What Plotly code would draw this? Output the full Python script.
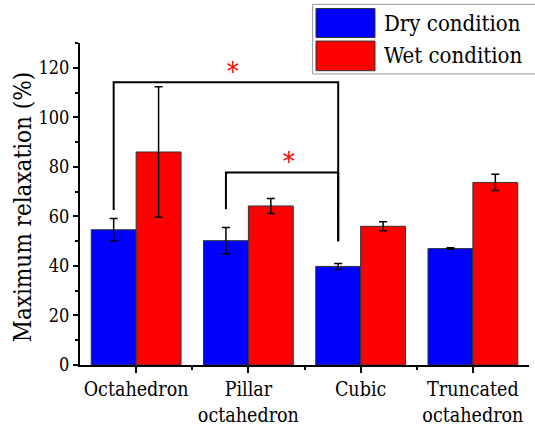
import plotly.graph_objects as go

# Particle shapes and measured maximum relaxation (%)
categories = ["Octahedron", "Pillar<br>octahedron", "Cubic", "Truncated<br>octahedron"]
series_names = ["Dry condition", "Wet condition"]
dry_values = [54.6, 50.2, 39.8, 47.0]
dry_errors = [4.5, 5.3, 1.2, 0.3]
wet_values = [86.0, 64.2, 56.0, 73.7]
wet_errors = [26.3, 3.0, 1.8, 3.3]
colors = ["#0000FF", "#FF0000"]

# Significance brackets: (x_left, x_right, y_top, y_left_end, y_right_end)
brackets = [(-0.2, 1.8, 114.2, 62.6, 50.0), (0.8, 1.8, 77.7, 62.9, 50.0)]
stars = [(0.86, 118.4), (1.36, 82.0)]

FONT = "DejaVu Serif Condensed, DejaVu Serif, serif"
positions = list(range(len(categories)))

fig = go.Figure()
for name, vals, errs, col in zip(series_names, [dry_values, wet_values],
                                  [dry_errors, wet_errors], colors):
    fig.add_trace(go.Bar(
        x=positions, y=vals, name=name,
        marker=dict(color=col, line=dict(color="#333333", width=1)),
        error_y=dict(type="data", array=errs, color="black", thickness=1.5, width=4),
        showlegend=False,
    ))

shapes = []
for x0, x1, ytop, yl, yr in brackets:
    shapes.append(dict(
        type="path", xref="x", yref="y",
        path=f"M {x0} {yl} L {x0} {ytop} L {x1} {ytop} L {x1} {yr}",
        line=dict(color="black", width=2),
    ))

annotations = []
for sx, sy in stars:
    annotations.append(dict(x=sx, y=sy, xref="x", yref="y", text="*", showarrow=False,
                            font=dict(family=FONT, size=26, color="#FF0000"),
                            xanchor="center", yanchor="middle"))

# Legend box with large colour swatches
shapes.append(dict(type="rect", xref="paper", yref="paper", x0=0.518, x1=1.03, y0=0.904, y1=1.120,
                   line=dict(color="#999999", width=1), fillcolor="white", layer="above"))
swatch_y = [(1.017, 1.107), (0.914, 1.006)]
text_y = [1.062, 0.960]
for (y0, y1), ty, name, col in zip(swatch_y, text_y, series_names, colors):
    shapes.append(dict(type="rect", xref="paper", yref="paper", x0=0.5256, x1=0.657, y0=y0, y1=y1,
                       line=dict(color="#333333", width=1), fillcolor=col, layer="above"))
    annotations.append(dict(x=0.672, y=ty, xref="paper", yref="paper", text=name, showarrow=False,
                            xanchor="left", yanchor="middle",
                            font=dict(family=FONT, size=22, color="black")))

# Y axis title
annotations.append(dict(x=-0.127, y=0.49, xref="paper", yref="paper", text="Maximum relaxation (%)",
                        textangle=-90, showarrow=False, xanchor="center", yanchor="middle",
                        font=dict(family=FONT, size=24, color="black")))

fig.update_layout(
    width=535, height=428,
    margin=dict(l=80, r=6, t=43, b=63),
    paper_bgcolor="white", plot_bgcolor="white",
    barmode="group", bargap=0.2, bargroupgap=0,
    font=dict(family=FONT, color="black"),
    shapes=shapes, annotations=annotations,
    xaxis=dict(
        range=[-0.5, 3.5], tickmode="array", tickvals=positions, ticktext=categories,
        showline=True, linecolor="black", linewidth=2, mirror=False, automargin=False,
        ticks="outside", ticklen=6, tickwidth=2, tickcolor="black",
        minor=dict(tickmode="array", tickvals=[0.5, 1.5, 2.5], ticks="outside",
                   ticklen=3, tickwidth=2, tickcolor="black"),
        showgrid=False, zeroline=False,
        tickfont=dict(family=FONT, size=19.5, color="black"),
    ),
    yaxis=dict(
        range=[0, 130], tick0=0, dtick=20, automargin=False,
        showline=True, linecolor="black", linewidth=2,
        ticks="outside", ticklen=5, tickwidth=2, tickcolor="black",
        minor=dict(dtick=10, ticks="outside", ticklen=3, tickwidth=2, tickcolor="black"),
        showgrid=False, zeroline=False,
        tickfont=dict(family=FONT, size=18, color="black"),
    ),
)

fig.write_html("out.html")
